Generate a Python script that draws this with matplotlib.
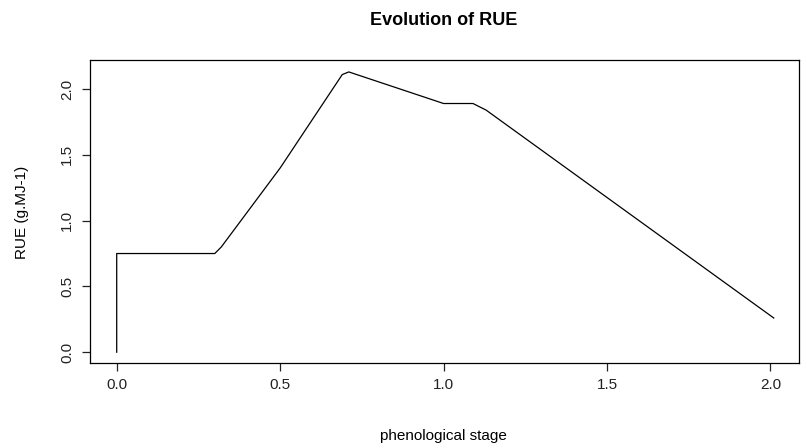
import matplotlib
matplotlib.use('Agg')
import matplotlib.pyplot as plt

plt.rcParams['font.family'] = ['Liberation Sans', 'DejaVu Sans']

# RUE values against phenological stage
stage = [0.0, 0.0, 0.3, 0.32, 0.5, 0.69, 0.71, 1.0, 1.09, 1.13, 2.01]
rue = [0.0, 0.75, 0.75, 0.80, 1.40, 2.11, 2.13, 1.89, 1.89, 1.84, 0.26]

xticks = [0.0, 0.5, 1.0, 1.5, 2.0]
yticks = [0.0, 0.5, 1.0, 1.5, 2.0]

fig = plt.figure(figsize=(8.07, 4.48), dpi=100)
ax = fig.add_axes([0.111, 0.19, 0.879, 0.675])
ax.plot(stage, rue, color='black', linewidth=0.9)

ax.set_xlim(-0.083, 2.087)
ax.set_ylim(-0.081, 2.217)
ax.set_xticks(xticks)
ax.set_xticklabels(['%.1f' % v for v in xticks])
ax.set_yticks(yticks)
ax.set_yticklabels(['%.1f' % v for v in yticks], rotation=90, va='center')
ax.tick_params(labelsize=11, length=6, width=0.9, colors='#222222', pad=5)

for s in ax.spines.values():
    s.set_linewidth(0.9)

fig.text(0.55, 0.955, 'Evolution of RUE', ha='center', va='center',
         fontsize=13, fontweight='bold')
fig.text(0.55, 0.027, 'phenological stage', ha='center', va='center', fontsize=11)
fig.text(0.027, 0.527, 'RUE (g.MJ-1)', ha='center', va='center', fontsize=11,
         rotation=90)

fig.savefig('out.png', dpi=100, facecolor='white')
